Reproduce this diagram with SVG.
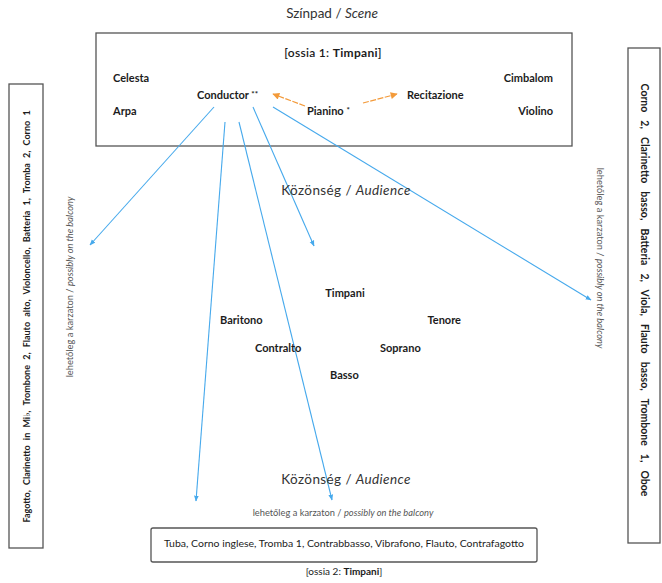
<svg xmlns="http://www.w3.org/2000/svg" width="662" height="583" viewBox="0 0 662 583">
<defs>
<style>
.t{font-family:Lato,"Open Sans","DejaVu Sans",sans-serif;fill:#1c1c1c}
.b{font-weight:bold;font-size:11px}
.h{font-size:13.5px;fill:#333}
.n{font-size:9.3px;fill:#555}
.side{font-weight:bold;font-size:9px;word-spacing:3px}
.box{fill:#fff;stroke:#555;stroke-width:1.3}
.blue{stroke:#46a9ec;stroke-width:1.1;fill:none}
.or{stroke:#f39a3a;stroke-width:1.2;fill:none;stroke-dasharray:6 1.5}
</style>
<marker id="ab" viewBox="0 0 10 10" refX="9" refY="5" markerWidth="6" markerHeight="6" orient="auto" markerUnits="userSpaceOnUse">
<path d="M0,1 L10,5 L0,9 z" fill="#46a9ec"/>
</marker>
<marker id="ao" viewBox="0 0 10 10" refX="9" refY="5" markerWidth="8" markerHeight="7" orient="auto" markerUnits="userSpaceOnUse">
<path d="M0,0 L10,5 L0,10 z" fill="#f39a3a"/>
</marker>
</defs>
<rect width="662" height="583" fill="#fff"/>

<text class="t h" x="332" y="18" text-anchor="middle">Színpad / <tspan font-style="italic">Scene</tspan></text>

<g id="stage">
<rect class="box" x="96" y="33" width="476" height="113"/>
<text class="t" x="333" y="57" text-anchor="middle" font-size="12" font-weight="600" letter-spacing="0.3">[ossia 1: <tspan font-weight="bold">Timpani</tspan>]</text>
</g>
<g id="celesta"><text class="t b" x="113" y="82">Celesta</text></g>
<g id="cimbalom"><text class="t b" x="553" y="82" text-anchor="end">Cimbalom</text></g>
<g id="conductor"><text class="t b" x="197" y="99">Conductor <tspan font-size="8" dy="-2">**</tspan></text></g>
<g id="recitazione"><text class="t b" x="407" y="99">Recitazione</text></g>
<g id="arpa"><text class="t b" x="113" y="115">Arpa</text></g>
<g id="pianino"><text class="t b" x="307" y="115">Pianino <tspan font-size="8" dy="-2">*</tspan></text></g>
<g id="violino"><text class="t b" x="553" y="115" text-anchor="end">Violino</text></g>

<g id="connectors">
<line class="or" x1="305" y1="106" x2="273" y2="94" marker-end="url(#ao)"/>
<line class="or" x1="363" y1="103" x2="397" y2="94" marker-end="url(#ao)"/>
<line class="blue" x1="214" y1="107" x2="90" y2="245" marker-end="url(#ab)"/>
<line class="blue" x1="225" y1="122" x2="196" y2="501" marker-end="url(#ab)"/>
<line class="blue" x1="239" y1="122" x2="332" y2="500" marker-end="url(#ab)"/>
<line class="blue" x1="253" y1="107" x2="314" y2="246" marker-end="url(#ab)"/>
<line class="blue" x1="273" y1="107" x2="591" y2="300" marker-end="url(#ab)"/>
</g>

<text class="t h" x="346" y="195" text-anchor="middle" letter-spacing="0.4">Közönség / <tspan font-style="italic">Audience</tspan></text>

<g id="timpani"><text class="t b" x="345" y="297" text-anchor="middle">Timpani</text></g>
<g id="baritono"><text class="t b" x="220" y="324">Baritono</text></g>
<g id="tenore"><text class="t b" x="461" y="324" text-anchor="end">Tenore</text></g>
<g id="contralto"><text class="t b" x="255" y="352">Contralto</text></g>
<g id="soprano"><text class="t b" x="380" y="352">Soprano</text></g>
<g id="basso"><text class="t b" x="330" y="379">Basso</text></g>

<text class="t h" x="346" y="484" text-anchor="middle" letter-spacing="0.4">Közönség / <tspan font-style="italic">Audience</tspan></text>
<text class="t n" x="343" y="516" text-anchor="middle">lehetőleg a karzaton / <tspan font-style="italic">possibly on the balcony</tspan></text>

<g id="bottom">
<rect class="box" x="151" y="528" width="386" height="34" rx="2"/>
<text class="t" x="344" y="547" text-anchor="middle" font-size="9.5" textLength="360" lengthAdjust="spacingAndGlyphs">Tuba, Corno inglese, Tromba 1, Contrabbasso, Vibrafono, Flauto, Contrafagotto</text>
</g>
<text class="t" x="344" y="575" text-anchor="middle" font-size="10" fill="#333">[ossia 2: <tspan font-weight="bold">Timpani</tspan>]</text>

<g id="left">
<rect class="box" x="9" y="84" width="34" height="464"/>
<text class="t side" transform="translate(30,316.5) rotate(-90)" text-anchor="middle">Fagotto, Clarinetto in Mi♭, Trombone 2, Flauto alto, Violoncello, Batteria 1, Tromba 2, Corno 1</text>
</g>
<text class="t n" transform="translate(73,287) rotate(-90)" text-anchor="middle">lehetőleg a karzaton / <tspan font-style="italic">possibly on the balcony</tspan></text>

<g id="right">
<rect class="box" x="628" y="48" width="32" height="495"/>
<text class="t side" transform="translate(641,290) rotate(90)" text-anchor="middle" style="font-size:10.5px;word-spacing:5.5px">Corno 2, Clarinetto basso, Batteria 2, Viola, Flauto basso, Trombone 1, Oboe</text>
</g>
<text class="t n" transform="translate(597,258) rotate(90)" text-anchor="middle">lehetőleg a karzaton / <tspan font-style="italic">possibly on the balcony</tspan></text>
</svg>
